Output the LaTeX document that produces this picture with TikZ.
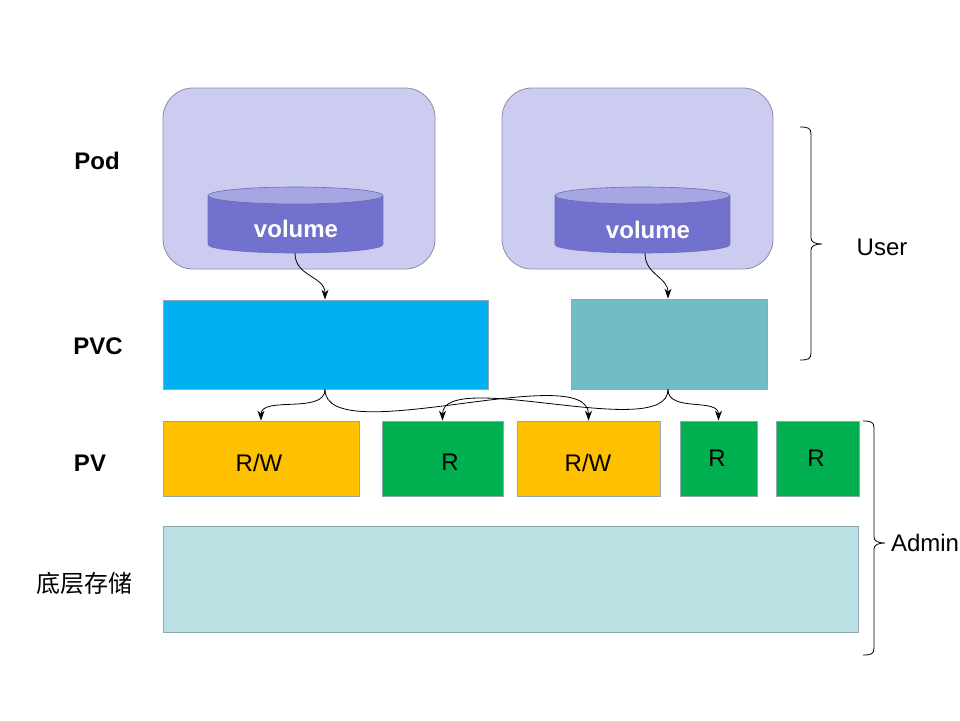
\documentclass[tikz,border=0pt]{standalone}
\usepackage{fontspec}
\setmainfont{Liberation Sans}
\newfontfamily\cjk{Noto Sans CJK SC}
\usetikzlibrary{arrows.meta}
\definecolor{podfill}{HTML}{CCCCF0}
\definecolor{podline}{HTML}{8C8CA8}
\definecolor{cylbody}{HTML}{7272CE}
\definecolor{cyltop}{HTML}{A6A6E2}
\definecolor{cylline}{HTML}{6A6AB8}
\definecolor{pvcA}{HTML}{00B0F0}
\definecolor{pvcB}{HTML}{71BDC4}
\definecolor{rw}{HTML}{FFC000}
\definecolor{ro}{HTML}{00B050}
\definecolor{store}{HTML}{BBE0E3}
\definecolor{boxline}{HTML}{8FA8B0}
\tikzset{
  txt/.style={font=\fontsize{24}{28}\selectfont},
  lbl/.style={font=\fontsize{24}{28}\selectfont\bfseries},
  podbox/.style={draw=podline, fill=podfill, rounded corners=30pt, line width=0.8pt},
  blk/.style={draw=boxline, line width=0.8pt, inner sep=0pt},
  volarea/.style={minimum width=175pt, minimum height=66pt, inner sep=0pt},
  voltxt/.style={text=white, font=\fontsize{24}{28}\selectfont\bfseries},
  link/.style={-{Stealth[length=10pt,width=7pt]}, line width=0.8pt},
  brc/.style={line width=0.8pt}
}
\begin{document}
\begin{tikzpicture}[x=1pt,y=-1pt]
\useasboundingbox (0,0) rectangle (960,720);
% pods
\node[podbox, minimum width=272pt, minimum height=181pt] (pod1) at (299,178.5) {};
\node[podbox, minimum width=271pt, minimum height=181pt] (pod2) at (637.5,178.5) {};
% cylinders
\foreach \cx in {295.5,642.5}{
  \fill[cylbody] (\cx-87.5,195.5) rectangle (\cx+87.5,244.5);
  \fill[cylbody] (\cx,244.5) ellipse [x radius=87.5, y radius=8.5];
  \draw[cylline, line width=0.6pt] (\cx-87.5,195.5) -- (\cx-87.5,244.5) arc[start angle=180, end angle=0, x radius=87.5, y radius=8.5] -- (\cx+87.5,195.5);
  \filldraw[fill=cyltop, draw=cylline, line width=0.6pt] (\cx,195.5) ellipse [x radius=87.5, y radius=8.5];
}
\node[volarea] (cyl1) at (295.5,220) {};
\node[volarea] (cyl2) at (642.5,220) {};
\node[voltxt] (v1) at (296,229) {volume};
\node[voltxt] (v2) at (648,230) {volume};
% PVC
\node[blk, fill=pvcA, minimum width=325pt, minimum height=89pt] (pvc1) at (325.5,344.5) {};
\node[blk, fill=pvcB, minimum width=196pt, minimum height=90pt] (pvc2) at (669,344) {};
% PV
\node[blk, fill=rw, minimum width=196pt, minimum height=75pt] (pv1) at (261,458.5) {};
\node[blk, fill=ro, minimum width=121pt, minimum height=75pt] (pv2) at (442.5,458.5) {};
\node[blk, fill=rw, minimum width=143pt, minimum height=75pt] (pv3) at (588.5,458.5) {};
\node[blk, fill=ro, minimum width=77pt, minimum height=75pt] (pv4) at (718.5,458.5) {};
\node[blk, fill=ro, minimum width=83pt, minimum height=75pt] (pv5) at (817.5,458.5) {};
\node[txt] (r1) at (259,463) {R/W};
\node[txt] (r2) at (450,462) {R};
\node[txt] (r3) at (588,463) {R/W};
\node[txt] (r4) at (717,458) {R};
\node[txt] (r5) at (816,458) {R};
% storage
\node[blk, fill=store, minimum width=695pt, minimum height=106pt] (st) at (510.5,579) {};
% left labels
\node[lbl] (lpod) at (97,161) {Pod};
\node[lbl] (lpvc) at (98,346) {PVC};
\node[lbl] (lpv) at (90,463) {PV};
\node[font=\fontsize{24}{28}\selectfont\cjk] (lst) at (84,583) {底层存储};
% connectors
\coordinate (c1) at ([xshift=-0.5pt]cyl1.south);
\coordinate (c2) at ([xshift=2.5pt]cyl2.south);
\coordinate (p1t) at ([xshift=-0.5pt]pvc1.north);
\coordinate (p2t) at ([xshift=-1pt]pvc2.north);
\coordinate (p1b) at ([xshift=-0.5pt]pvc1.south);
\coordinate (p2b) at ([xshift=-1pt]pvc2.south);
\draw[link] (c1) to[out=-90,in=90,looseness=1.1] (p1t);
\draw[link] (c2) to[out=-90,in=90,looseness=1.1] (p2t);
\draw[link] (p1b) to[out=-90,in=90,looseness=0.9] (pv1.north);
\draw[link] (p1b) to[out=-90,in=90,looseness=0.6] (pv3.north);
\draw[link] (p2b) to[out=-90,in=90,looseness=0.6] (pv2.north);
\draw[link] (p2b) to[out=-90,in=90,looseness=1.0] (pv4.north);
% braces
\coordinate (ubtip) at (822,244);
\coordinate (abtip) at (885,543);
\draw[brc] (800,127) .. controls (808,127) and (811,128) .. (811,134) -- (811,238)
  .. controls (811,242) and (815,244) .. (ubtip)
  .. controls (815,244) and (811,246) .. (811,250) -- (811,353)
  .. controls (811,359) and (808,360) .. (800,360);
\draw[brc] (863,421) .. controls (871,421) and (874,422) .. (874,428) -- (874,537)
  .. controls (874,541) and (878,543) .. (abtip)
  .. controls (878,543) and (874,545) .. (874,549) -- (874,648)
  .. controls (874,654) and (871,655) .. (863,655);
\node[txt] (user) at (882,247) {User};
\node[txt] (admin) at (925,543) {Admin};
\end{tikzpicture}
\end{document}
